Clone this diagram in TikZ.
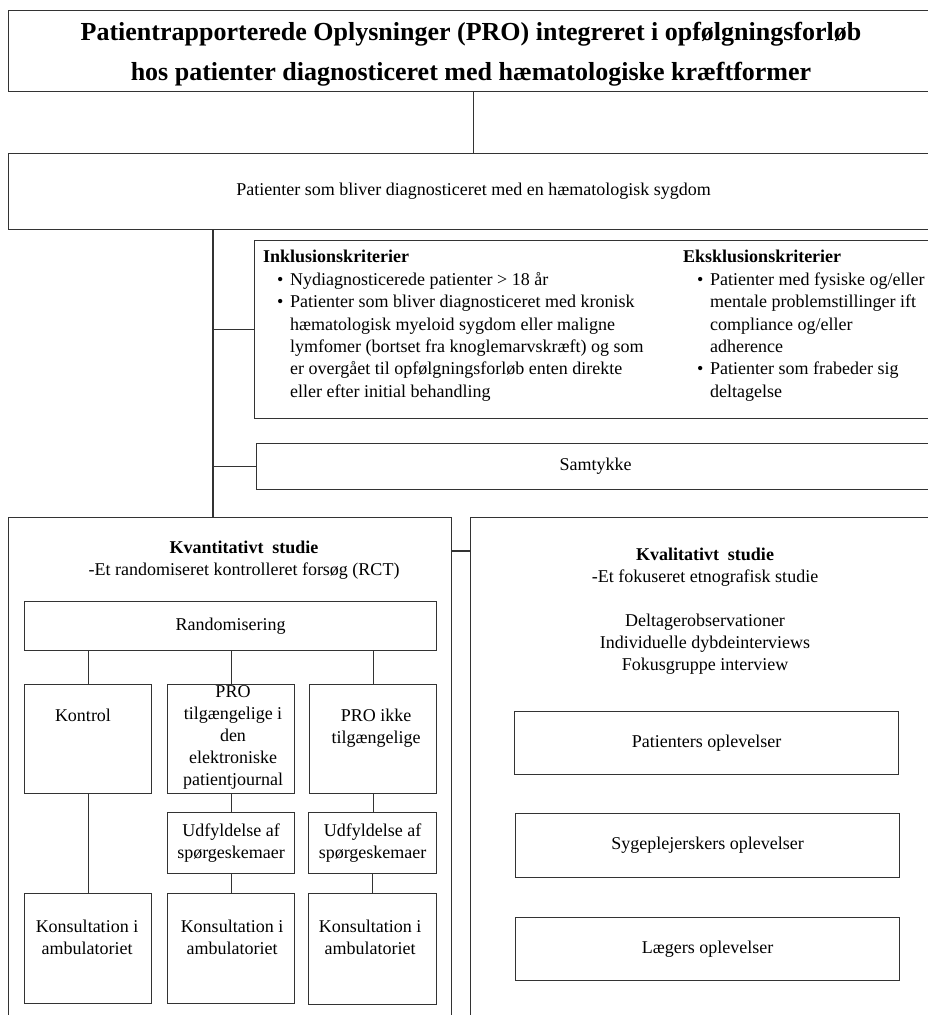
\documentclass[tikz,border=0pt]{standalone}
\usepackage{fontspec}
\setmainfont{Liberation Serif}
\newcommand\blt{\makebox[27pt][l]{\hspace{14pt}•}}
\newcommand\ind{\hspace*{27pt}}
\begin{document}
\begin{tikzpicture}[x=1pt,y=-1pt,
  box/.style={draw=black!80, line width=1.2pt, anchor=north west, inner sep=0pt, align=center, font=\fontsize{18}{22}\selectfont},
  txt/.style={inner sep=0pt, align=center, anchor=north, font=\fontsize{18}{22}\selectfont},
  ltxt/.style={inner sep=0pt, align=left, anchor=north west, font=\fontsize{18}{22.4}\selectfont},
  conn/.style={draw=black!80, line width=1.2pt}]
\useasboundingbox (0,0) rectangle (928,1015);
\clip (0,0) rectangle (928,1015);
\fill[white] (0,0) rectangle (928,1015);

% boxes
\node[box, minimum width=930pt, minimum height=81pt] (title) at (8,10) {};
\node[box, minimum width=930pt, minimum height=76pt] (pop) at (8,153) {Patienter som bliver diagnosticeret med en hæmatologisk sygdom};
\node[box, minimum width=684pt, minimum height=178pt] (inkl) at (254,240) {};
\node[box, minimum width=678pt, minimum height=46pt] (samt) at (256,443) {Samtykke};
\node[box, minimum width=443pt, minimum height=520pt] (kvant) at (8,517) {};
\node[box, minimum width=470pt, minimum height=520pt] (kvali) at (470,517) {};
\node[box, minimum width=412pt, minimum height=49pt] (rand) at (24,601) {Randomisering};
\node[box, minimum width=127pt, minimum height=109pt] (kontrol) at (24,684) {};
\node[box, minimum width=127pt, minimum height=109pt] (protilg) at (167,684) {};
\node[box, minimum width=127pt, minimum height=109pt] (proikke) at (309,684) {};
\node[box, minimum width=127pt, minimum height=61pt] (udf1) at (167,812) {Udfyldelse af\\spørgeskemaer};
\node[box, minimum width=128pt, minimum height=61pt] (udf2) at (308,812) {Udfyldelse af\\spørgeskemaer};
\node[box, minimum width=127pt, minimum height=110pt] (kons1) at (24,893) {};
\node[box, minimum width=127pt, minimum height=110pt] (kons2) at (167,893) {};
\node[box, minimum width=128pt, minimum height=111pt] (kons3) at (308,893) {};
\node[box, minimum width=384pt, minimum height=63pt] (pat) at (514,711) {Patienters oplevelser};
\node[box, minimum width=384pt, minimum height=64pt] (syg) at (515,813) {Sygeplejerskers oplevelser};
\node[box, minimum width=384pt, minimum height=63pt] (laeg) at (515,917) {Lægers oplevelser};

% texts
\node[inner sep=0pt, align=center, font=\fontsize{26}{40}\selectfont\bfseries] (titleT) at (471,54.5)
  {Patientrapporterede Oplysninger (PRO) integreret i opfølgningsforløb\\hos patienter diagnosticeret med hæmatologiske kræftformer};
\node[ltxt] (inklT) at (263,247) {\strut\textbf{Inklusionskriterier}\\\blt Nydiagnosticerede patienter > 18 år\\\blt Patienter som bliver diagnosticeret med kronisk\\\ind hæmatologisk myeloid sygdom eller maligne\\\ind lymfomer (bortset fra knoglemarvskræft) og som\\\ind er overgået til opfølgningsforløb enten direkte\\\ind eller efter initial behandling};
\node[ltxt] (eksT) at (683,247) {\strut\textbf{Eksklusionskriterier}\\\blt Patienter med fysiske og/eller\\\ind mentale problemstillinger ift\\\ind compliance og/eller\\\ind adherence\\\blt Patienter som frabeder sig\\\ind deltagelse};
\node[txt] (kvantT) at (244,538) {\strut\textbf{Kvantitativt\ \ studie}\\-Et randomiseret kontrolleret forsøg (RCT)};
\node[txt] (kvaliT) at (705,545) {\strut\textbf{Kvalitativt\ \ studie}\\-Et fokuseret etnografisk studie\\[22pt]Deltagerobservationer\\Individuelle dybdeinterviews\\Fokusgruppe interview};
\node[txt] (kontrolT) at (83,706) {\strut Kontrol};
\node[txt] (protilgT) at (233,682) {\strut PRO\\tilgængelige i\\den\\elektroniske\\patientjournal};
\node[txt] (proikkeT) at (376,706) {\strut PRO ikke\\tilgængelige};
\node[txt] (kons1T) at (87,917) {\strut Konsultation i\\ambulatoriet};
\node[txt] (kons2T) at (232,917) {\strut Konsultation i\\ambulatoriet};
\node[txt] (kons3T) at (370,917) {\strut Konsultation i\\ambulatoriet};

% connectors
\coordinate (spine) at (213,229);
\draw[conn] (title.south) -- (pop.north);
\draw[conn] (spine) -- (spine |- kvant.north);
\draw[conn] (spine |- inkl.west) -- (inkl.west);
\draw[conn] (spine |- samt.west) -- (samt.west);
\draw[conn] ([yshift=-34pt]kvant.north east) -- ([yshift=-34pt]kvant.north east -| kvali.west);
\draw[conn] (rand.south -| kontrol.north) -- (kontrol.north);
\draw[conn] (rand.south -| protilg.north) -- (protilg.north);
\draw[conn] (rand.south -| proikke.north) -- (proikke.north);
\draw[conn] (kontrol.south) -- (kons1.north);
\draw[conn] (protilg.south) -- (udf1.north);
\draw[conn] (udf1.south) -- (kons2.north);
\draw[conn] (proikke.south) -- (proikke.south |- udf2.north);
\draw[conn] (udf2.south) -- (kons3.north);
\end{tikzpicture}
\end{document}
